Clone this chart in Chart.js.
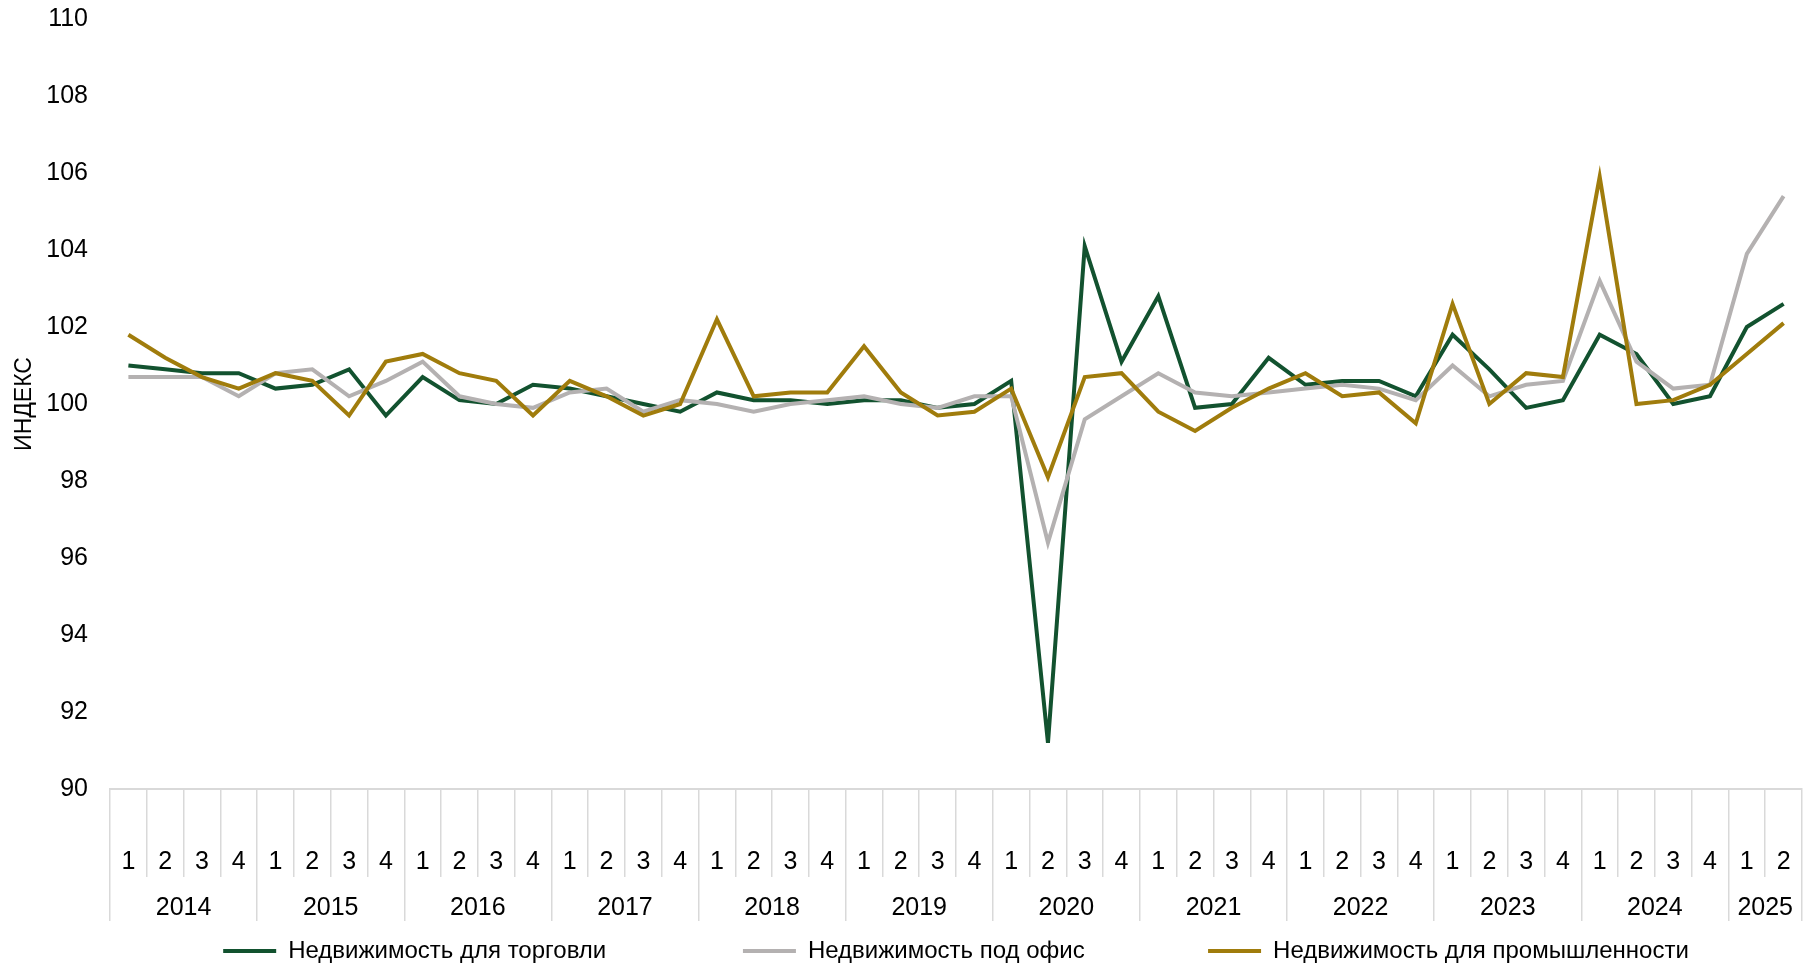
<!DOCTYPE html>
<html lang="ru">
<head>
<meta charset="utf-8">
<title>Индекс коммерческой недвижимости</title>
<script src="https://cdn.jsdelivr.net/npm/chart.js@4.4.1/dist/chart.umd.min.js"></script>
<style>
  html, body { margin: 0; padding: 0; background: #fff; }
  #wrap { width: 1812px; height: 965px; }
</style>
</head>
<body>
<div id="wrap"><canvas id="myChart"></canvas></div>
<script>
// quarters 2014 Q1 .. 2025 Q2
const quarters = [
  '1','2','3','4', '1','2','3','4', '1','2','3','4', '1','2','3','4',
  '1','2','3','4', '1','2','3','4', '1','2','3','4', '1','2','3','4',
  '1','2','3','4', '1','2','3','4', '1','2','3','4', '1','2'
];
const years = ['2014','2015','2016','2017','2018','2019','2020','2021','2022','2023','2024','2025'];
const quartersPerYear = [4,4,4,4,4,4,4,4,4,4,4,2];

const yTicks = {min: 90, max: 110, step: 2};

const retail = [
  101.0, 100.9, 100.8, 100.8, 100.4, 100.5, 100.9, 99.7,
  100.7, 100.1, 100.0, 100.5, 100.4, 100.2, 100.0, 99.8,
  100.3, 100.1, 100.1, 100.0, 100.1, 100.1, 99.9, 100.0,
  100.6, 91.2, 104.1, 101.1, 102.8, 99.9, 100.0, 101.2,
  100.5, 100.6, 100.6, 100.2, 101.8, 100.9, 99.9, 100.1,
  101.8, 101.3, 100.0, 100.2, 102.0, 102.6
];
const office = [
  100.7, 100.7, 100.7, 100.2, 100.8, 100.9, 100.2, 100.6,
  101.1, 100.2, 100.0, 99.9, 100.3, 100.4, 99.8, 100.1,
  100.0, 99.8, 100.0, 100.1, 100.2, 100.0, 99.9, 100.2,
  100.2, 96.4, 99.6, 100.2, 100.8, 100.3, 100.2, 100.3,
  100.4, 100.5, 100.4, 100.1, 101.0, 100.2, 100.5, 100.6,
  103.2, 101.1, 100.4, 100.5, 103.9, 105.4
];
const industry = [
  101.8, 101.2, 100.7, 100.4, 100.8, 100.6, 99.7, 101.1,
  101.3, 100.8, 100.6, 99.7, 100.6, 100.2, 99.7, 100.0,
  102.2, 100.2, 100.3, 100.3, 101.5, 100.3, 99.7, 99.8,
  100.4, 98.1, 100.7, 100.8, 99.8, 99.3, 99.9, 100.4,
  100.8, 100.2, 100.3, 99.5, 102.6, 100.0, 100.8, 100.7,
  105.9, 100.0, 100.1, 100.5, 101.3, 102.1
];

// year separators and year label positions on the quarter index scale
let yearEdges = [-0.5];
let yearMids = [];
quartersPerYear.forEach(n => {
  const start = yearEdges[yearEdges.length - 1];
  yearMids.push(start + n / 2);
  yearEdges.push(start + n);
});

Chart.defaults.font.family = "'Liberation Sans', Arial, sans-serif";
Chart.defaults.font.size = 25;
Chart.defaults.color = '#000';

const sepColor = '#d9d9d9';
// extra room after the first two legend entries
const legendGaps = [' '.repeat(19), ' '.repeat(17)];

const myChart = document.getElementById('myChart');

new Chart(myChart, {
  type: 'line',
  data: {
    labels: quarters,
    datasets: [
      {
        label: 'Недвижимость для торговли',
        data: retail,
        borderColor: '#12522f',
        backgroundColor: '#12522f',
        order: 3
      },
      {
        label: 'Недвижимость под офис',
        data: office,
        borderColor: '#b4b1b1',
        backgroundColor: '#b4b1b1',
        order: 2
      },
      {
        label: 'Недвижимость для промышленности',
        data: industry,
        borderColor: '#a07c0c',
        backgroundColor: '#a07c0c',
        order: 1
      }
    ]
  },
  options: {
    responsive: true,
    maintainAspectRatio: false,
    animation: false,
    layout: { padding: { top: 19, right: 10, bottom: -8, left: 0 } },
    elements: {
      line: { borderWidth: 4, tension: 0, fill: false },
      point: { radius: 0, hoverRadius: 0 }
    },
    scales: {
      x: {
        type: 'category',
        offset: true,
        grid: { offset: true, drawOnChartArea: false, tickLength: 88, color: sepColor, lineWidth: 1.5 },
        border: { display: true, color: sepColor, width: 2 },
        ticks: { padding: -30, maxRotation: 0, autoSkip: false },
        afterFit: s => { s.height = 88; }
      },
      x2: {
        type: 'linear',
        position: 'bottom',
        weight: 1,
        min: -0.5,
        max: 45.5,
        afterBuildTicks: s => { s.ticks = yearEdges.map(v => ({value: v})); },
        grid: { drawOnChartArea: false, tickLength: 44, color: sepColor, lineWidth: 1.5 },
        border: { display: false },
        ticks: { display: false },
        afterFit: s => { s.height = 0; }
      },
      x3: {
        type: 'linear',
        position: 'bottom',
        weight: 2,
        min: -0.5,
        max: 45.5,
        afterBuildTicks: s => { s.ticks = yearMids.map(v => ({value: v})); },
        grid: { display: false, drawTicks: false },
        border: { display: false },
        ticks: { padding: 16, autoSkip: false, maxRotation: 0, callback: (v, i) => years[i] },
        afterFit: s => { s.height = 52; }
      },
      y: {
        min: yTicks.min,
        max: yTicks.max,
        ticks: { stepSize: yTicks.step, padding: 2 },
        grid: { display: false, drawTicks: true, tickLength: 20 },
        border: { display: false },
        title: { display: true, text: 'ИНДЕКС', font: { size: 23 }, padding: { top: 11, bottom: 0 } },
        afterFit: s => { s.width = 110; }
      }
    },
    plugins: {
      tooltip: { enabled: false },
      legend: {
        position: 'bottom',
        fullSize: false,
        labels: {
          boxWidth: 53,
          boxHeight: 4,
          padding: 10,
          font: { size: 24 },
          sort: (a, b) => a.datasetIndex - b.datasetIndex,
          generateLabels: chart => {
            const items = Chart.defaults.plugins.legend.labels.generateLabels(chart);
            items.forEach(it => {
              it.fillStyle = it.strokeStyle;
              it.lineWidth = 0;
              if (it.datasetIndex < 2) it.text += legendGaps[it.datasetIndex];
            });
            return items;
          }
        }
      }
    }
  }
});
</script>
</body>
</html>
